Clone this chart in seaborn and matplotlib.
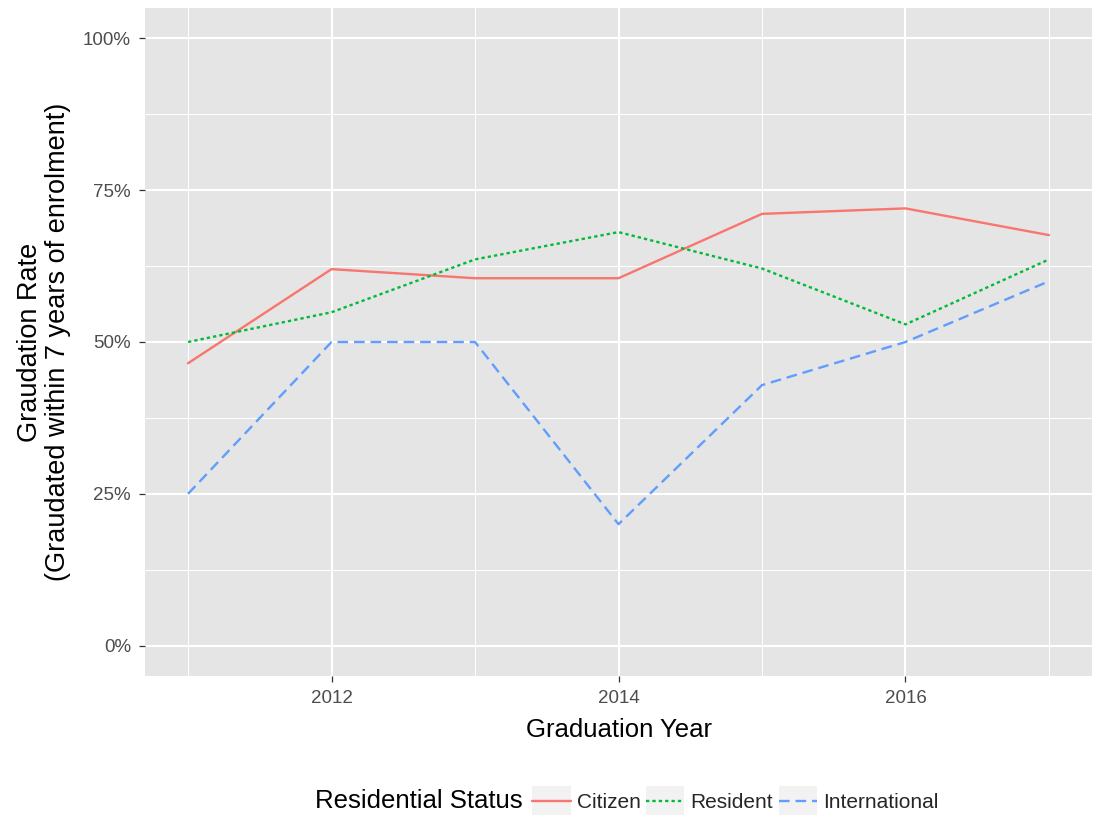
import numpy as np
import pandas as pd
import matplotlib
matplotlib.use("Agg")
import matplotlib.pyplot as plt
import seaborn as sns
from matplotlib.legend_handler import HandlerLine2D
from matplotlib.patches import Rectangle
from matplotlib.lines import Line2D

years = [2011, 2012, 2013, 2014, 2015, 2016, 2017]
citizen = [46.5, 62.0, 60.5, 60.5, 71.1, 72.0, 67.6]
resident = [50.0, 54.9, 63.6, 68.1, 62.1, 52.9, 63.6]
international = [25.0, 50.0, 50.0, 20.0, 42.9, 50.0, 60.0]
statuses = ["Citizen", "Resident", "International"]
colors = {"Citizen": "#F8766D", "Resident": "#00BA38", "International": "#619CFF"}
dashes = {"Citizen": "", "Resident": (1.4, 1.3), "International": (4.5, 2.5)}

df = pd.DataFrame({
    "Year": years * 3,
    "Rate": citizen + resident + international,
    "Status": ["Citizen"] * 7 + ["Resident"] * 7 + ["International"] * 7,
})

sns.set_theme(style="darkgrid")
plt.rcParams["font.family"] = ["Liberation Sans", "DejaVu Sans"]

W, H = 1097, 819
fig = plt.figure(figsize=(W / 100, H / 100), dpi=100)
fig.patch.set_facecolor("white")
ax = fig.add_axes([145 / W, 1 - 676 / H, (1092 - 145) / W, (676 - 8) / H])
ax.set_facecolor("#E5E5E5")

sns.lineplot(data=df, x="Year", y="Rate", hue="Status", style="Status",
             hue_order=statuses, style_order=statuses, palette=colors,
             dashes=dashes, linewidth=1.7, ax=ax, legend=False)

ax.set_xlim(2010.7, 2017.3)
ax.set_ylim(-5, 105)
ax.set_xticks([2012, 2014, 2016])
ax.set_xticks([2011, 2013, 2015, 2017], minor=True)
ax.set_yticks([0, 25, 50, 75, 100])
ax.set_yticks([12.5, 37.5, 62.5, 87.5], minor=True)
ax.set_yticklabels(["0%", "25%", "50%", "75%", "100%"])
ax.grid(which="major", color="white", linewidth=1.5)
ax.grid(which="minor", color="white", linewidth=0.75)
for s in ax.spines.values():
    s.set_visible(False)
ax.tick_params(axis="both", which="major", bottom=True, left=True, length=4,
               width=0.9, color="#333333", labelsize=13.5, labelcolor="#4D4D4D", pad=6)
ax.tick_params(axis="both", which="minor", length=0)
ax.set_xlabel("Graduation Year", fontsize=18.5, color="black", labelpad=8)
ax.set_ylabel("Graudation Rate\n(Graudated within 7 years of enrolment)",
              fontsize=19.5, color="black", labelpad=9, linespacing=1.1)


class BoxHandler(HandlerLine2D):
    def create_artists(self, legend, orig_handle, xdescent, ydescent, width, height, fontsize, trans):
        yc = (height - ydescent) / 2.0 - 2.5
        rect = Rectangle((-xdescent, yc - height / 2.0), width, height,
                         facecolor="#F2F2F2", edgecolor="none", transform=trans)
        arts = super().create_artists(legend, orig_handle, xdescent, ydescent, width, height, fontsize, trans)
        for a in arts:
            if isinstance(a, Line2D):
                a.set_ydata(np.full(len(a.get_xdata()), yc))
        return [rect] + list(arts)


handles = [Line2D([0], [0], color=colors[s], linewidth=1.7,
                  linestyle="-" if s == "Citizen" else (0, dashes[s])) for s in statuses]

ycen = 1 - 801 / H
fig.text(315 / W, ycen, "Residential Status", fontsize=18.5, color="black",
         ha="left", va="center")
leg = fig.legend(handles, statuses, loc="center left", bbox_to_anchor=(532 / W, ycen),
                 ncol=3, frameon=False, fontsize=15, handlelength=1.85, handleheight=1.75,
                 handletextpad=0.3, columnspacing=0.25, borderpad=0, borderaxespad=0,
                 handler_map={Line2D: BoxHandler()})

fig.savefig("out.png", dpi=100)
